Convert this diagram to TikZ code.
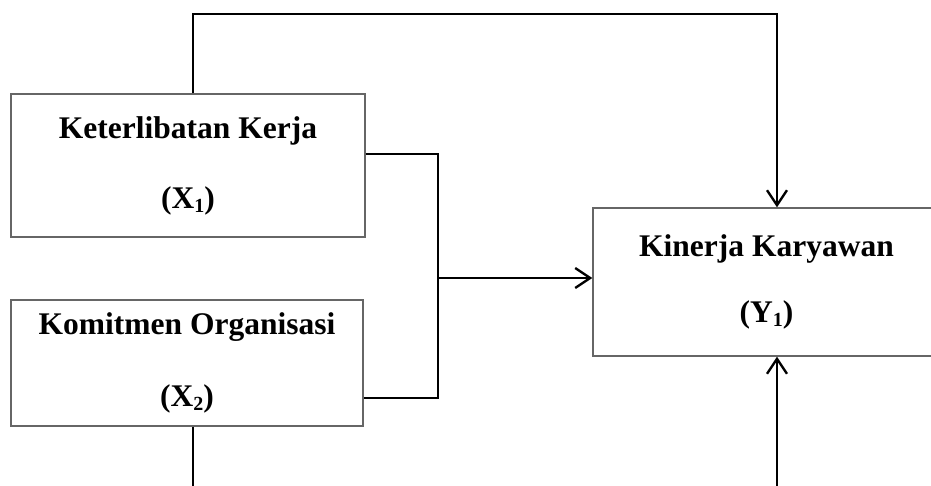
\documentclass[tikz,border=0pt]{standalone}
\usepackage{fontspec}
\setmainfont{Liberation Serif}
\usetikzlibrary{arrows.meta}

\newcommand{\lowidx}[1]{\raisebox{-4pt}{\fontsize{20}{20}\selectfont #1}}

\begin{document}
\begin{tikzpicture}[x=1pt, y=-1pt, >={Straight Barb[length=15pt, width=20pt]},
    every node/.style={rectangle, draw=black!60, line width=1.3pt, align=center, font=\fontsize{31.5}{70}\selectfont\bfseries},
    conn/.style={draw=black, line width=2.4pt}]
    \useasboundingbox (0,0) rectangle (931,486);

        % Variables.
        \node[minimum width=354pt, minimum height=143pt] (x1) at (188,165.5) {Keterlibatan Kerja\\(X\lowidx{1})};
        \node[minimum width=352pt, minimum height=126pt] (x2) at (187,363) {Komitmen Organisasi\\[2pt](X\lowidx{2})};
        \node[minimum width=347pt, minimum height=148pt] (y1) at (766.5,282) {Kinerja Karyawan\\[-4pt](Y\lowidx{1})};

        % Corner points.
        \coordinate (tl) at (193,14);
        \coordinate (tr) at (777,14);
        \coordinate (bl) at (193,486);
        \coordinate (br) at (777,486);
        \coordinate (j1) at (438,154);
        \coordinate (j2) at (438,398);
        \coordinate (jn) at (438,278);

        % Joint connection.
        \draw[conn] (x1.east |- j1) -- (j1) -- (j2) -- (x2.east |- j2);
        \draw[conn, ->] (jn) -- (y1.west |- jn);

        % Top connection.
        \draw[conn, ->] (x1.north -| tl) -- (tl) -- (tr) -- (y1.north -| tr);

        % Bottom connection.
        \draw[conn] (x2.south -| bl) -- (bl);
        \draw[conn, ->] (br) -- (y1.south -| br);

    \end{tikzpicture}
\end{document}
